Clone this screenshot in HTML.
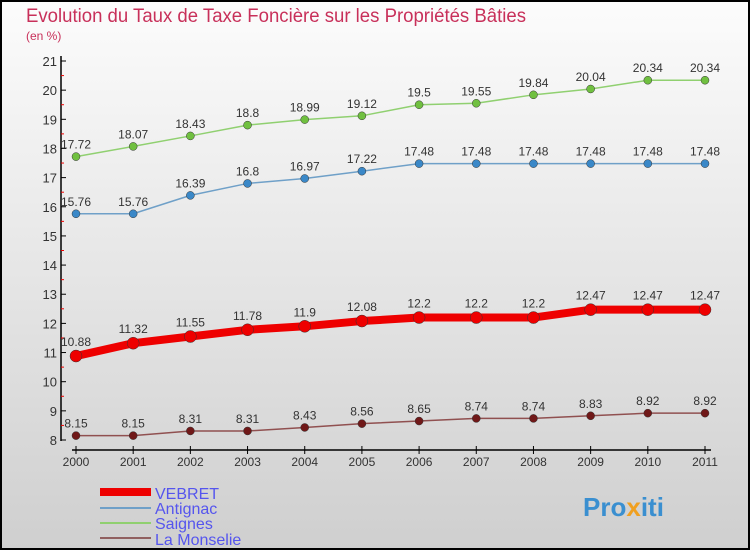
<!DOCTYPE html>
<html><head><meta charset="utf-8"><style>
body{margin:0}
#c{width:750px;height:550px;position:relative;font-family:"Liberation Sans",sans-serif}
</style></head><body>
<div id="c">
<svg width="750" height="550" id="s">
<defs><linearGradient id="bg" x1="0" y1="0" x2="0" y2="1"><stop offset="0" stop-color="#fcfcfc"/><stop offset="1" stop-color="#cfcfcf"/></linearGradient></defs>
<rect x="1" y="1" width="748" height="548" fill="url(#bg)" stroke="#000" stroke-width="2"/>
<text x="26" y="22" font-size="19" textLength="500" lengthAdjust="spacingAndGlyphs" fill="#c8305a">Evolution du Taux de Taxe Foncière sur les Propriétés Bâties</text>
<text x="26" y="40" font-size="12" fill="#c8305a">(en %)</text>
<g id="axes"></g><g id="series"></g>
<g>
<line x1="100" y1="492" x2="151" y2="492" stroke="#e00" stroke-width="8"/>
<text x="155" y="499" font-size="16" fill="#5555ee">VEBRET</text>
<line x1="100" y1="508" x2="151" y2="508" stroke="#6fa0c8" stroke-width="2"/>
<text x="155" y="514" font-size="16" fill="#5555ee">Antignac</text>
<line x1="100" y1="523" x2="151" y2="523" stroke="#90d070" stroke-width="2"/>
<text x="155" y="529" font-size="16" fill="#5555ee">Saignes</text>
<line x1="100" y1="538" x2="151" y2="538" stroke="#906060" stroke-width="2"/>
<text x="155" y="545" font-size="16" fill="#5555ee">La Monselie</text>
</g>
<text x="583" y="516" font-size="26" font-weight="bold" fill="#3a8fd0">Pro<tspan fill="#f0a020">x</tspan>iti</text>
</svg>
</div>
<script>
const years=[2000,2001,2002,2003,2004,2005,2006,2007,2008,2009,2010,2011];
const yTicks=[8,9,10,11,12,13,14,15,16,17,18,19,20,21];
const vebret=[10.88,11.32,11.55,11.78,11.9,12.08,12.2,12.2,12.2,12.47,12.47,12.47];
const antignac=[15.76,15.76,16.39,16.8,16.97,17.22,17.48,17.48,17.48,17.48,17.48,17.48];
const saignes=[17.72,18.07,18.43,18.8,18.99,19.12,19.5,19.55,19.84,20.04,20.34,20.34];
const monselie=[8.15,8.15,8.31,8.31,8.43,8.56,8.65,8.74,8.74,8.83,8.92,8.92];
const NS="http://www.w3.org/2000/svg";
const X=i=>76+i*(705-76)/(years.length-1);
const Y=v=>440-(v-8)*(440-61)/13;
function mk(t,a,p){const e=document.createElementNS(NS,t);for(const k in a)e.setAttribute(k,a[k]);p.appendChild(e);return e;}
const ax=document.getElementById('axes');
let l=mk('line',{x1:61,y1:56,x2:61,y2:441,stroke:'#000','stroke-width':1.5},ax);


yTicks.forEach(v=>{mk('line',{x1:61,y1:Y(v),x2:66,y2:Y(v),stroke:'#000'},ax);
 if(v<21)mk('line',{x1:61,y1:Y(v+0.5),x2:64,y2:Y(v+0.5),stroke:'#e00'},ax);
 const t=mk('text',{x:57,y:Y(v)+5,'font-size':13,fill:'#333','text-anchor':'end'},ax);t.textContent=v;
 
 });
l=mk('line',{x1:72,y1:450,x2:711,y2:450,stroke:'#000','stroke-width':1.5},ax);


years.forEach((y,i)=>{mk('line',{x1:X(i),y1:446,x2:X(i),y2:454,stroke:'#000'},ax);
 const t=mk('text',{x:X(i),y:466,'font-size':12,fill:'#333','text-anchor':'middle'},ax);t.textContent=y;
 
 });
const sg=document.getElementById('series');
function series(d,name,col,w,r,dot){
 const g=mk('g',{},sg);
 
 
 mk('polyline',{points:d.map((v,i)=>X(i)+','+Y(v)).join(' '),fill:'none',stroke:col,'stroke-width':w,'stroke-linejoin':'round'},g);
 d.forEach((v,i)=>{const c=mk('circle',{cx:X(i),cy:Y(v),r:r,fill:dot,stroke:'#333','stroke-width':0.5},g);
  
  
  const t=mk('text',{x:X(i),y:Y(v)-(w>3?10:8),'font-size':12,fill:'#333','text-anchor':'middle'},g);t.textContent=v;
  
  });
}
series(saignes,'saignes','#90d070',1.5,4,'#70c040');
series(antignac,'antignac','#6fa0c8',1.5,4,'#3a88c8');
series(vebret,'vebret','#e00',8,6,'#e00');
series(monselie,'la-monselie','#905050',1.5,4,'#701818');
</script>
</body></html>
